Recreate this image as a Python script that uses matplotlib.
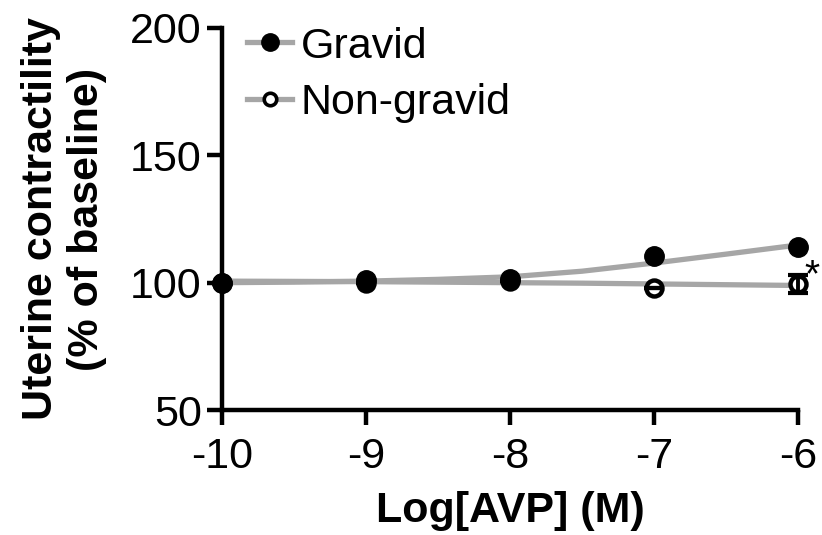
import matplotlib
matplotlib.use("Agg")
import matplotlib.pyplot as plt
import numpy as np

plt.rcParams['font.family'] = ['Liberation Sans', 'DejaVu Sans']

log_avp = [-10, -9, -8, -7, -6]
gravid = [100, 101, 101.5, 110.5, 114]
nongravid = [100, 100, 100.5, 98, 99.4]
nongravid_err = [0, 0, 0, 0, 3.5]

curve_x = [-10, -9.5, -9, -8.5, -8, -7.5, -7, -6.5, -6]
gravid_curve = [100, 100.2, 100.6, 101.3, 102.3, 104.5, 107.7, 111.2, 114.8]
nongravid_curve = [100.6, 100.5, 100.4, 100.2, 100, 99.8, 99.5, 99.2, 98.9]

xticks = [-10, -9, -8, -7, -6]
yticks = [50, 100, 150, 200]

gray = '#A6A6A6'
fig = plt.figure(figsize=(8.22, 5.35), dpi=100)
ax = fig.add_axes([222/822, 1-410/535, (798-222)/822, (410-28)/535])

ax.plot(curve_x, gravid_curve, color=gray, lw=3.8, zorder=2, clip_on=False)
ax.plot(curve_x, nongravid_curve, color=gray, lw=3.8, zorder=2, clip_on=False)
ax.plot(log_avp, nongravid, 'o', mfc='white', mec='black', mew=3.2, ms=11.5, zorder=3, clip_on=False)
ax.errorbar(log_avp, nongravid, yerr=nongravid_err, fmt='none', ecolor='black',
            elinewidth=2.8, capsize=7, capthick=3.0, zorder=4, clip_on=False)
ax.plot(log_avp, gravid, 'o', color='black', ms=14, zorder=5, clip_on=False)

# legend handles
h1, = ax.plot([], [], '-o', color=gray, lw=3.8, mfc='black', mec='black', ms=12.5)
h2, = ax.plot([], [], '-o', color=gray, lw=3.8, mfc='white', mec='black', mew=2.6, ms=9)
leg = ax.legend([h1, h2], ['Gravid', 'Non-gravid'], loc='upper left', frameon=False,
                fontsize=31, handlelength=1.05, handletextpad=0.19, labelspacing=0.39,
                borderaxespad=0.0, bbox_to_anchor=(0.014, 1.049))

ax.text(-5.9, 102.5, '*', fontsize=28, ha='center', va='center', clip_on=False)

ax.set_xlim(-10, -6)
ax.set_ylim(50, 200)
ax.set_xticks(xticks)
ax.set_xticklabels([str(t) for t in xticks])
ax.set_yticks(yticks)
for s in ['top', 'right']:
    ax.spines[s].set_visible(False)
for s in ['left', 'bottom']:
    ax.spines[s].set_linewidth(3.2)
ax.tick_params(width=3.2, length=10.5, labelsize=31)
ax.tick_params(axis='x', pad=9)
ax.tick_params(axis='y', pad=4)
ax.set_xlabel('Log[AVP] (M)', fontsize=31, fontweight='bold', labelpad=10)
ax.set_ylabel('Uterine contractility\n(% of baseline)', fontsize=31, fontweight='bold', linespacing=1.2)
ax.yaxis.set_label_coords(-0.2, 0.5)

fig.savefig('out.png', dpi=100)
